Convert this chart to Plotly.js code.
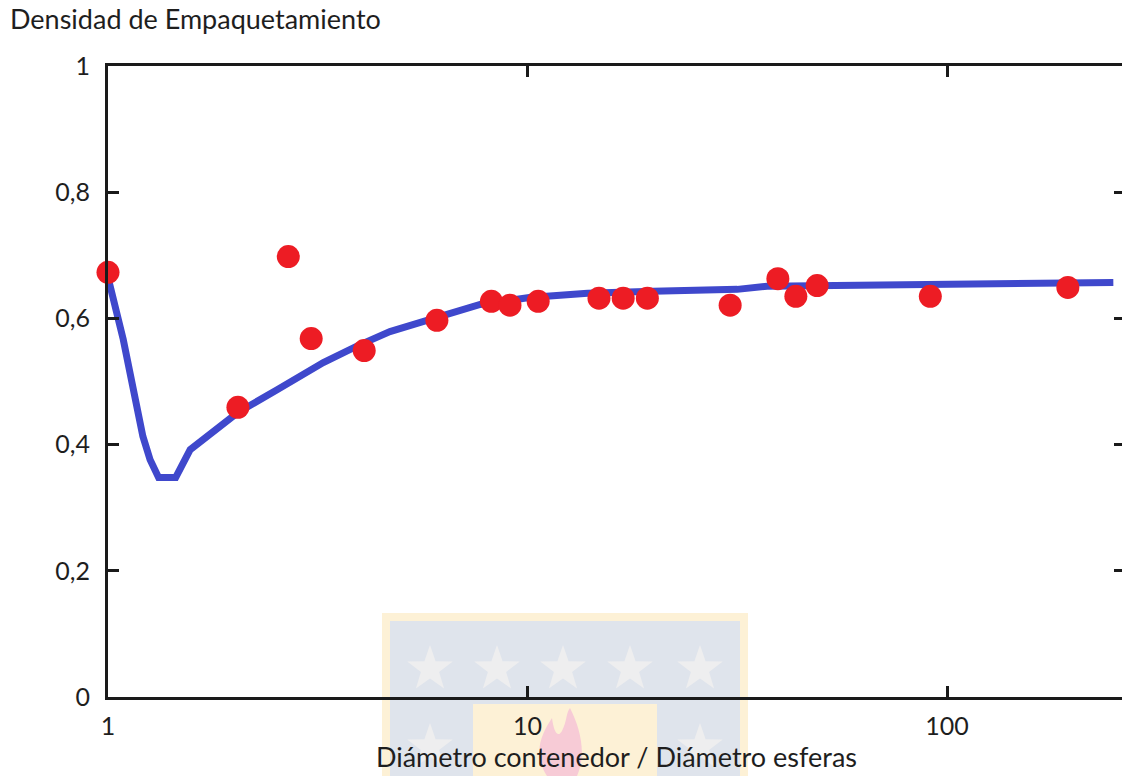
<!DOCTYPE html>
<html>
<head>
<meta charset="utf-8">
<script src="https://cdn.plot.ly/plotly-3.0.1.min.js"></script>
<style>
html,body{margin:0;padding:0;overflow:hidden;background:#fff;}
#chart{width:1140px;height:776px;}
</style>
</head>
<body>
<div id="chart"></div>
<script>
// ---- data ----
const dotX = [1, 2.04, 2.69, 3.05, 4.08, 6.08, 8.2, 9.08, 10.6, 14.8, 16.9, 19.3, 30.4, 39.5, 43.6, 49.0, 91.2, 194];
const dotY = [0.673, 0.459, 0.698, 0.568, 0.549, 0.597, 0.627, 0.621, 0.627, 0.632, 0.632, 0.632, 0.621, 0.663, 0.635, 0.652, 0.635, 0.649];

const lineX = [1, 1.087, 1.211, 1.26, 1.32, 1.45, 1.57, 1.88, 2.04, 2.53, 3.26, 3.92, 4.70, 5.63, 7.71, 10.1, 13.9, 19.9, 31.6, 37.2, 49.0, 92.6, 249];
const lineY = [0.665, 0.567, 0.413, 0.376, 0.348, 0.348, 0.392, 0.432, 0.451, 0.487, 0.530, 0.556, 0.579, 0.595, 0.622, 0.633, 0.640, 0.643, 0.646, 0.651, 0.652, 0.656, 0.657];

const yTickVals = [0, 0.2, 0.4, 0.6, 0.8, 1];
const yTickText = ["0", "0,2", "0,4", "0,6", "0,8", "1"];
const xTickVals = [1, 10, 100];
const xTickText = ["1", "10", "100"];

const titleText = "Densidad de Empaquetamiento";
const xTitleText = "Diámetro contenedor / Diámetro esferas";

// ---- background watermark (decorative) ----
function star(cx, cy, r) {
  let p = [];
  for (let i = 0; i < 10; i++) {
    const a = -Math.PI / 2 + i * Math.PI / 5;
    const rr = i % 2 === 0 ? r : r * 0.4;
    p.push((cx + rr * Math.cos(a)).toFixed(1) + "," + (cy + rr * Math.sin(a)).toFixed(1));
  }
  return '<polygon points="' + p.join(" ") + '" fill="#eeeeef"/>';
}
let svg = '<svg xmlns="http://www.w3.org/2000/svg" width="366" height="163" viewBox="0 0 366 163">' +
  '<rect x="0" y="0" width="366" height="163" fill="#fdf1d6"/>' +
  '<rect x="8" y="8" width="350" height="155" fill="#dfe4ec"/>';
[48, 115, 181, 248, 318].forEach(cx => { svg += star(cx, 56, 24); });
[48, 318].forEach(cx => { svg += star(cx, 134, 24); });
svg += '<rect x="91" y="91" width="184" height="72" fill="#fdf1d6"/>';
svg += '<path d="M165 163 C150 140 160 120 170 105 C172 120 176 125 180 118 C185 108 184 100 188 95 C198 115 205 140 195 163 Z" fill="#f7cbd6"/>';
svg += '</svg>';
const wm = "data:image/svg+xml;base64," + btoa(unescape(encodeURIComponent(svg)));

const textColor = "#1e1e1e";
const fontFam = "Lato, 'Open Sans', sans-serif";

const traces = [
  {
    x: lineX, y: lineY, type: "scatter", mode: "lines",
    line: {color: "#3f48cc", width: 7, shape: "linear"},
    hoverinfo: "skip", showlegend: false
  },
  {
    x: dotX, y: dotY, type: "scatter", mode: "markers",
    marker: {color: "#ed1c24", size: 23, line: {width: 0}},
    cliponaxis: false, showlegend: false
  }
];

const layout = {
  width: 1140, height: 776,
  margin: {l: 108, r: 15, t: 66, b: 79},
  paper_bgcolor: "#ffffff", plot_bgcolor: "#ffffff",
  font: {family: fontFam, color: textColor, size: 25},
  title: {
    text: titleText, xref: "container", yref: "container",
    x: 10 / 1140, xanchor: "left", y: 1 - 20 / 776, yanchor: "middle",
    font: {family: fontFam, size: 27, color: textColor}
  },
  xaxis: {
    type: "log", range: [0, 2.424],
    tickmode: "array", tickvals: xTickVals, ticktext: xTickText,
    ticks: "inside", ticklen: 11, tickwidth: 3, tickcolor: "#1a1a1a",
    showline: true, linecolor: "#1a1a1a", linewidth: 3, mirror: "ticks",
    showgrid: false, zeroline: false,
    tickfont: {size: 25, color: textColor}, ticklabelstandoff: 5,
    title: {text: xTitleText, standoff: 6, font: {size: 27, color: textColor}}
  },
  yaxis: {
    range: [0, 1],
    tickmode: "array", tickvals: yTickVals, ticktext: yTickText,
    ticks: "inside", ticklen: 11, tickwidth: 3, tickcolor: "#1a1a1a",
    showline: true, linecolor: "#1a1a1a", linewidth: 3, mirror: "ticks",
    showgrid: false, zeroline: false,
    tickfont: {size: 25, color: textColor}, ticklabelstandoff: 10
  },
  images: [{
    source: wm, xref: "paper", yref: "paper",
    x: (382 - 108) / 1017, y: (697 - 613) / 631,
    sizex: 366 / 1017, sizey: 163 / 631,
    xanchor: "left", yanchor: "top", sizing: "stretch", layer: "below"
  }]
};

Plotly.newPlot("chart", traces, layout, {displayModeBar: false, staticPlot: true});
</script>
</body>
</html>
